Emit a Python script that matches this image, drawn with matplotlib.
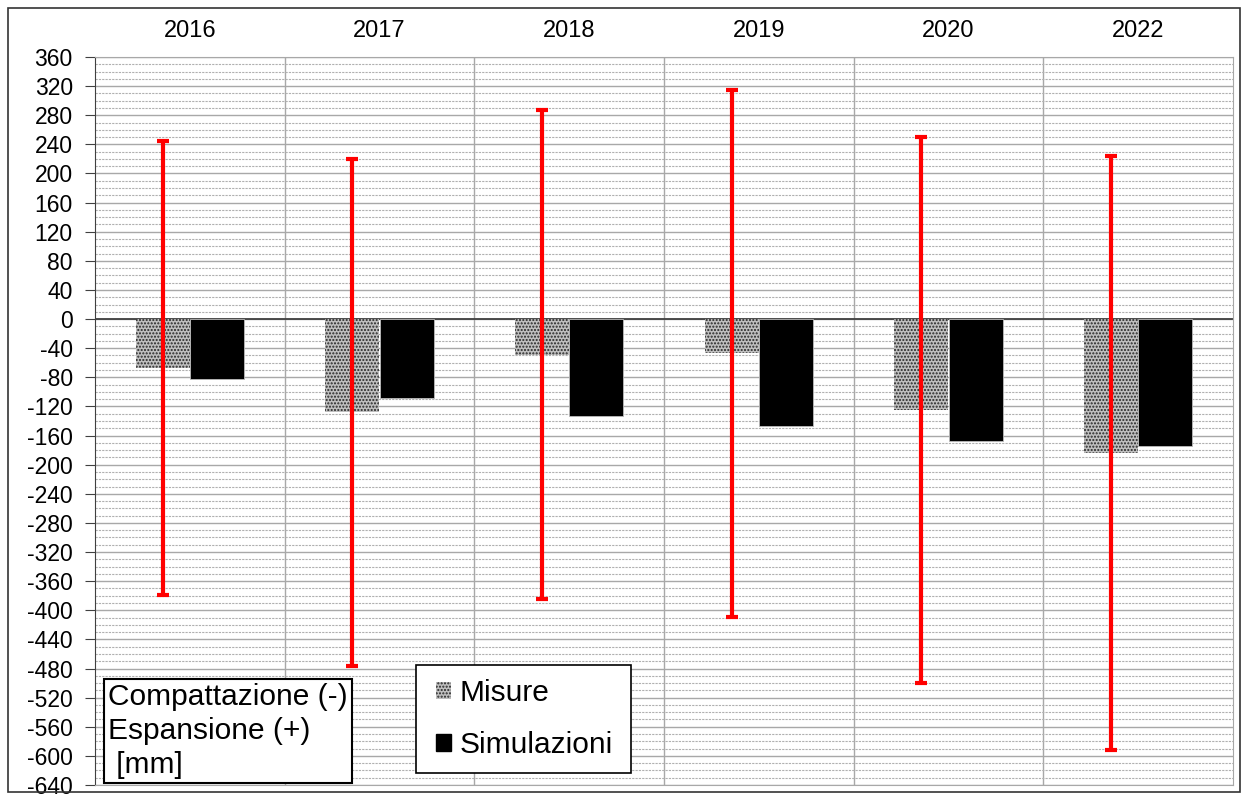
import matplotlib
matplotlib.use("Agg")
import matplotlib.pyplot as plt
from matplotlib.patches import Rectangle, Patch
from matplotlib.ticker import MultipleLocator
import numpy as np

plt.rcParams["font.family"] = ["Liberation Sans", "DejaVu Sans"]
plt.rcParams["axes.unicode_minus"] = False
plt.rcParams["hatch.linewidth"] = 1.0

# data
years = ["2016", "2017", "2018", "2019", "2020", "2022"]
misure = [-67, -128, -49, -47, -125, -184]
simulazioni = [-82, -108, -133, -147, -168, -174]
misure_err = [312, 348, 336, 362, 375, 408]

W, H = 1248, 798
fig = plt.figure(figsize=(W / 100, H / 100), dpi=100)
ax = fig.add_axes([95 / W, 1 - 785 / H, (1233 - 95) / W, (785 - 57) / H])


def ax_xy(px, py):
    # pixel position of the reference -> axes fraction
    return (px - 95) / (1233 - 95), (785 - py) / (785 - 57)


x = np.arange(len(years))
bw = 0.285
off = 0.143
hatch_face, hatch_ink = "#bfbfbf", "#262626"

ax.bar(x - off, misure, bw, facecolor=hatch_face, edgecolor=hatch_ink,
       hatch=".....", linewidth=0, zorder=3)
ax.bar(x + off, simulazioni, bw, color="black", edgecolor="#bbbbbb",
       linewidth=0.6, zorder=3)
ax.errorbar(x - off, misure, yerr=misure_err, fmt="none", ecolor="#ff0000",
            elinewidth=3, capsize=4, capthick=3, zorder=4)

ax.set_xlim(-0.5, len(years) - 0.5)
ax.set_ylim(-640, 360)
ax.yaxis.set_major_locator(MultipleLocator(40))
ax.yaxis.set_minor_locator(MultipleLocator(10))
ax.grid(which="major", axis="y", color="#a8a8a8", lw=1.0, zorder=0)
ax.grid(which="minor", axis="y", color="#b0b0b0", lw=0.8, ls=(0, (2, 1)), zorder=0)
for b in np.arange(0.5, len(years) - 0.5, 1):
    ax.axvline(b, color="#a8a8a8", lw=1.0, zorder=1)
ax.axhline(0, color="#404040", lw=1.3, zorder=2)

ax.set_xticks(x)
ax.set_xticklabels(years)
ax.xaxis.tick_top()
ax.tick_params(axis="x", length=0, pad=11, labelsize=17)
ax.tick_params(axis="y", which="major", length=7, color="#404040",
               labelsize=16.5, pad=9)
ax.tick_params(axis="y", which="minor", length=0)
for s in ["top", "right", "bottom"]:
    ax.spines[s].set_color("#a8a8a8")
ax.spines["left"].set_color("#404040")

# legend (frame drawn separately so the entries can sit indented)
handles = [Patch(facecolor=hatch_face, edgecolor=hatch_ink, hatch=".....", linewidth=0),
           Patch(facecolor="black", edgecolor="black")]
leg = ax.legend(handles, ["Misure", "Simulazioni"], loc="center left",
                bbox_to_anchor=ax_xy(436, 719),
                fontsize=21.5, frameon=False,
                handlelength=0.5, handleheight=0.5, handletextpad=0.3,
                labelspacing=0.8, borderpad=0.0, borderaxespad=0)
leg.set_zorder(7)
lx0, ly0 = ax_xy(416, 773)
lx1, ly1 = ax_xy(631, 665)
ax.add_patch(Rectangle((lx0, ly0), lx1 - lx0, ly1 - ly0, transform=ax.transAxes,
                       facecolor="white", edgecolor="black", lw=1.2, zorder=6))

# unit text box
ax.text(0.0115, 0.008, "Compattazione (-)\nEspansione (+)\n [mm]",
        transform=ax.transAxes, fontsize=21.5, ha="left", va="bottom",
        linespacing=1.28, zorder=6,
        bbox=dict(boxstyle="square,pad=0.14", facecolor="white",
                  edgecolor="black", linewidth=1.5))

# outer frame
fig.patches.append(Rectangle((8 / W, 6 / H), 1232 / W, 784 / H, transform=fig.transFigure,
                             fill=False, edgecolor="#333333", linewidth=1.2))

fig.savefig("out.png", dpi=100)
